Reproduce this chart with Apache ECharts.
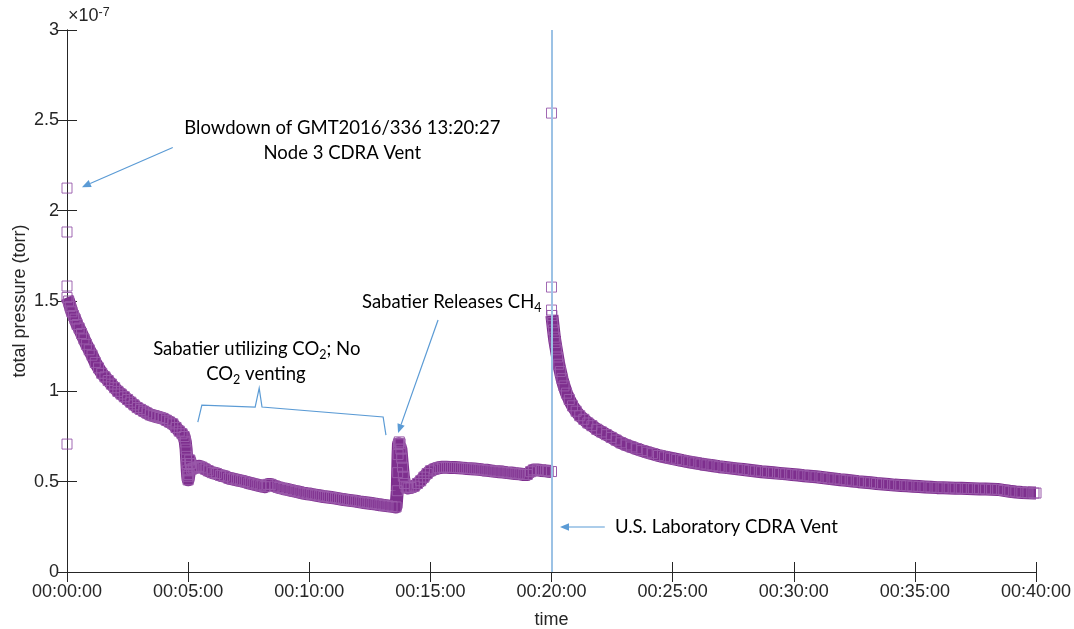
<!DOCTYPE html>
<html>
<head>
<meta charset="utf-8">
<title>Total pressure</title>
<script src="https://cdn.jsdelivr.net/npm/echarts@6/dist/echarts.min.js"></script>
<style>
  html, body { margin: 0; padding: 0; background: #fff; }
  #chart { width: 1074px; height: 629px; }
</style>
</head>
<body>
<div id="chart"></div>
<script>
// Elapsed time (s) and total pressure (units of 1e-7 torr), record before the lab vent
const timesA = [0,4,8,12,16,20,25,30,36,42,48,55,62,70,78,86,94,102,110,118,126,134,142,150,158,166,174,182,190,198,206,214,222,230,238,246,254,262,270,278,285,290,293,295,296,297,298,299,300,302,304,306,309,314,320,327,334,342,350,360,370,380,390,400,410,420,430,440,450,460,470,480,490,497,505,515,525,535,545,555,565,575,585,595,605,615,625,635,645,655,665,675,685,695,705,715,725,735,745,755,765,775,785,795,805,815,818,819,820,821,823,825,827,829,831,833,836,840,845,852,860,868,876,884,892,900,910,920,930,940,950,960,970,980,990,1000,1010,1020,1030,1040,1050,1060,1070,1080,1090,1100,1110,1120,1130,1140,1148,1155,1165,1175,1185,1192,1200];
const pressureA = [1.52,1.50,1.47,1.44,1.42,1.40,1.37,1.35,1.32,1.29,1.26,1.23,1.20,1.16,1.13,1.10,1.08,1.06,1.04,1.02,1.00,0.985,0.97,0.955,0.94,0.925,0.91,0.90,0.89,0.88,0.87,0.865,0.86,0.855,0.85,0.84,0.83,0.82,0.80,0.78,0.765,0.75,0.72,0.68,0.64,0.60,0.56,0.53,0.51,0.54,0.62,0.60,0.57,0.575,0.58,0.585,0.58,0.57,0.56,0.55,0.545,0.535,0.53,0.52,0.515,0.51,0.505,0.50,0.493,0.488,0.482,0.477,0.472,0.485,0.485,0.475,0.468,0.462,0.457,0.452,0.447,0.442,0.437,0.433,0.43,0.426,0.422,0.418,0.415,0.412,0.409,0.405,0.401,0.398,0.395,0.392,0.388,0.385,0.382,0.379,0.376,0.372,0.369,0.366,0.363,0.36,0.45,0.55,0.65,0.71,0.72,0.71,0.68,0.63,0.58,0.53,0.49,0.47,0.465,0.468,0.475,0.49,0.505,0.525,0.545,0.56,0.57,0.577,0.58,0.58,0.579,0.578,0.577,0.575,0.573,0.572,0.57,0.568,0.565,0.563,0.56,0.557,0.555,0.553,0.55,0.548,0.545,0.543,0.54,0.54,0.555,0.565,0.565,0.562,0.56,0.558,0.556];

// Record after the U.S. Laboratory CDRA vent
const timesB = [1201,1203,1205,1207,1209,1212,1215,1218,1222,1226,1231,1237,1244,1252,1261,1270,1280,1290,1300,1312,1324,1336,1348,1360,1372,1385,1398,1411,1424,1437,1450,1465,1480,1495,1510,1525,1540,1555,1570,1585,1600,1615,1630,1645,1660,1675,1690,1705,1720,1735,1750,1765,1780,1795,1810,1825,1840,1855,1870,1885,1900,1915,1930,1945,1960,1975,1990,2005,2020,2035,2050,2065,2080,2095,2110,2125,2140,2155,2170,2185,2200,2215,2230,2245,2260,2275,2290,2305,2320,2335,2350,2365,2380,2395,2400];
const pressureB = [1.42,1.38,1.34,1.30,1.27,1.23,1.19,1.15,1.11,1.07,1.03,0.99,0.955,0.92,0.89,0.865,0.845,0.825,0.81,0.79,0.775,0.76,0.745,0.73,0.715,0.703,0.692,0.682,0.672,0.663,0.655,0.645,0.637,0.63,0.623,0.616,0.61,0.604,0.598,0.593,0.588,0.583,0.579,0.575,0.571,0.567,0.563,0.559,0.555,0.552,0.549,0.546,0.543,0.54,0.537,0.533,0.53,0.527,0.523,0.519,0.515,0.511,0.508,0.504,0.50,0.497,0.494,0.49,0.487,0.484,0.481,0.479,0.477,0.475,0.473,0.471,0.469,0.467,0.466,0.465,0.464,0.463,0.462,0.461,0.46,0.459,0.458,0.457,0.452,0.447,0.443,0.44,0.438,0.437,0.437];

// Isolated readings right at the two vent events
const burstTimes = [0, 0, 0, 0, 1200, 1200, 1200];
const burstValues = [2.125, 1.882, 1.583, 0.708, 2.54, 1.577, 1.45];

// Event time of the U.S. Laboratory CDRA vent (s)
const labVentTime = 1200;

// Axis ticks
const timeTicks = { min: 0, max: 2400, step: 300 };
const pressureTicks = { min: 0, max: 3, step: 0.5 };

const PURPLE = '#7E2F8E';
const EDGE = '#9a5aaa';
const BLUE = '#5B9BD5';
const AXIS = '#262626';
const AXIS_FONT = 'Liberation Sans';
const NOTE_FONT = 'Lato';

const pairs = (xs, ys) => xs.map((x, i) => [x, ys[i]]);
const pad = n => String(n).padStart(2, '0');
const hms = s => {
  const h = Math.floor(s / 3600), m = Math.floor((s % 3600) / 60), sec = Math.round(s % 60);
  return pad(h) + ':' + pad(m) + ':' + pad(sec);
};

const chart = echarts.init(document.getElementById('chart'), null, { renderer: 'canvas' });

const axisLine = { show: true, lineStyle: { color: AXIS, width: 1 } };
const axisTick = { show: true, inside: true, length: 10, lineStyle: { color: AXIS, width: 1 } };

const bandSeries = (name, data) => ({
  name,
  type: 'line',
  data,
  xAxisIndex: 0,
  yAxisIndex: 0,
  symbol: 'rect',
  symbolSize: 10,
  showSymbol: true,
  lineStyle: { color: PURPLE, width: 13, cap: 'butt', join: 'round' },
  itemStyle: { color: 'rgba(255,255,255,0)', borderColor: EDGE, borderWidth: 1 },
  z: 2,
  silent: true
});

chart.setOption({
  animation: false,
  backgroundColor: '#ffffff',
  grid: { left: 67, right: 38, top: 30, bottom: 57, containLabel: false, outerBoundsMode: 'none' },
  xAxis: [
    {
      type: 'value', position: 'bottom',
      min: timeTicks.min, max: timeTicks.max, interval: timeTicks.step,
      axisLine, axisTick, splitLine: { show: false },
      axisLabel: { fontSize: 18, color: AXIS, fontFamily: AXIS_FONT, margin: 11, formatter: v => hms(v) },
      name: 'time', nameLocation: 'middle', nameGap: 39,
      nameTextStyle: { fontSize: 18, color: AXIS, fontFamily: AXIS_FONT }
    },
    {
      type: 'value', position: 'top',
      min: timeTicks.min, max: timeTicks.max, interval: timeTicks.step,
      axisLine, axisTick, splitLine: { show: false }, axisLabel: { show: false }
    }
  ],
  yAxis: [
    {
      type: 'value', position: 'left',
      min: pressureTicks.min, max: pressureTicks.max, interval: pressureTicks.step,
      axisLine, axisTick, splitLine: { show: false },
      axisLabel: { fontSize: 18, color: AXIS, fontFamily: AXIS_FONT, margin: 8 },
      name: 'total pressure (torr)', nameLocation: 'middle', nameGap: 38, nameRotate: 90,
      nameMoveOverlap: false,
      nameTextStyle: { fontSize: 18, color: AXIS, fontFamily: AXIS_FONT }
    },
    {
      type: 'value', position: 'right',
      min: pressureTicks.min, max: pressureTicks.max, interval: pressureTicks.step,
      axisLine, axisTick, splitLine: { show: false }, axisLabel: { show: false }
    }
  ],
  series: [
    bandSeries('before lab vent', pairs(timesA, pressureA)),
    bandSeries('after lab vent', pairs(timesB, pressureB)),
    {
      name: 'vent bursts',
      type: 'scatter',
      data: pairs(burstTimes, burstValues),
      xAxisIndex: 0, yAxisIndex: 0,
      symbol: 'rect', symbolSize: 10,
      itemStyle: { color: 'rgba(255,255,255,0)', borderColor: '#8a44a0', borderWidth: 1 },
      z: 3,
      silent: true,
      markLine: {
        silent: true,
        symbol: ['none', 'none'],
        label: { show: false },
        lineStyle: { color: '#9cc2e5', width: 2, type: 'solid' },
        data: [{ xAxis: labVentTime }]
      }
    }
  ]
});

// Annotations, anchored in data coordinates (time s, pressure 1e-7 torr)
const px = (t, v) => chart.convertToPixel({ xAxisIndex: 0, yAxisIndex: 0 }, [t, v]);

function arrow(from, to) {
  const a = px(from[0], from[1]), b = px(to[0], to[1]);
  const dx = b[0] - a[0], dy = b[1] - a[1];
  const len = Math.hypot(dx, dy), ux = dx / len, uy = dy / len;
  const hl = 9, hw = 3.8;
  const bx = b[0] - ux * hl, by = b[1] - uy * hl;
  return [
    { type: 'line', silent: true, z: 10,
      shape: { x1: a[0], y1: a[1], x2: bx, y2: by },
      style: { stroke: BLUE, lineWidth: 1.2 } },
    { type: 'polygon', silent: true, z: 10,
      shape: { points: [[b[0], b[1]], [bx - uy * hw, by + ux * hw], [bx + uy * hw, by - ux * hw]] },
      style: { fill: BLUE } }
  ];
}

// Rich text styles for subscripts in chemical formulas
const noteRich = {
  sub: { fontSize: 12.5, fontFamily: NOTE_FONT, fill: '#000', verticalAlign: 'bottom' }
};

function note(t, v, text, align) {
  const p = px(t, v);
  return {
    type: 'text', silent: true, z: 10, x: p[0], y: p[1],
    style: {
      text, fill: '#000', fontSize: 18.5, fontFamily: NOTE_FONT,
      align: align || 'center', verticalAlign: 'middle', lineHeight: 25,
      rich: noteRich
    }
  };
}

const bracePts = [[324, 0.83], [334, 0.924], [466, 0.913], [476, 1.018], [483, 0.913], [783, 0.858], [790, 0.758]];
const origin = px(0, pressureTicks.max);

const graphics = [
  note(682, 2.39, 'Blowdown of GMT2016/336 13:20:27\nNode 3 CDRA Vent'),
  ...arrow([262, 2.35], [37, 2.13]),
  note(470, 1.235, 'Sabatier utilizing CO{sub|2}; No'),
  note(468, 1.095, 'CO{sub|2} venting'),
  {
    type: 'polyline', silent: true, z: 10,
    shape: { points: bracePts.map(p => px(p[0], p[1])) },
    style: { stroke: BLUE, lineWidth: 1.2, fill: null }
  },
  note(953, 1.494, 'Sabatier Releases CH{sub|4}'),
  ...arrow([919, 1.395], [820, 0.769]),
  note(1357, 0.249, 'U.S. Laboratory CDRA Vent', 'left'),
  ...arrow([1332, 0.249], [1221, 0.249]),
  {
    type: 'text', silent: true, z: 10, x: origin[0] + 1, y: origin[1] - 14,
    style: {
      text: '{m|\u00d7}10{sup|-7}', fill: AXIS, fontSize: 18, fontFamily: AXIS_FONT,
      align: 'left', verticalAlign: 'middle', lineHeight: 20,
      rich: {
        m: { fontSize: 18, fontFamily: AXIS_FONT, fill: AXIS },
        sup: { fontSize: 12.5, fontFamily: AXIS_FONT, fill: AXIS, verticalAlign: 'top' }
      }
    }
  }
];

chart.setOption({ graphic: graphics });
</script>
</body>
</html>
